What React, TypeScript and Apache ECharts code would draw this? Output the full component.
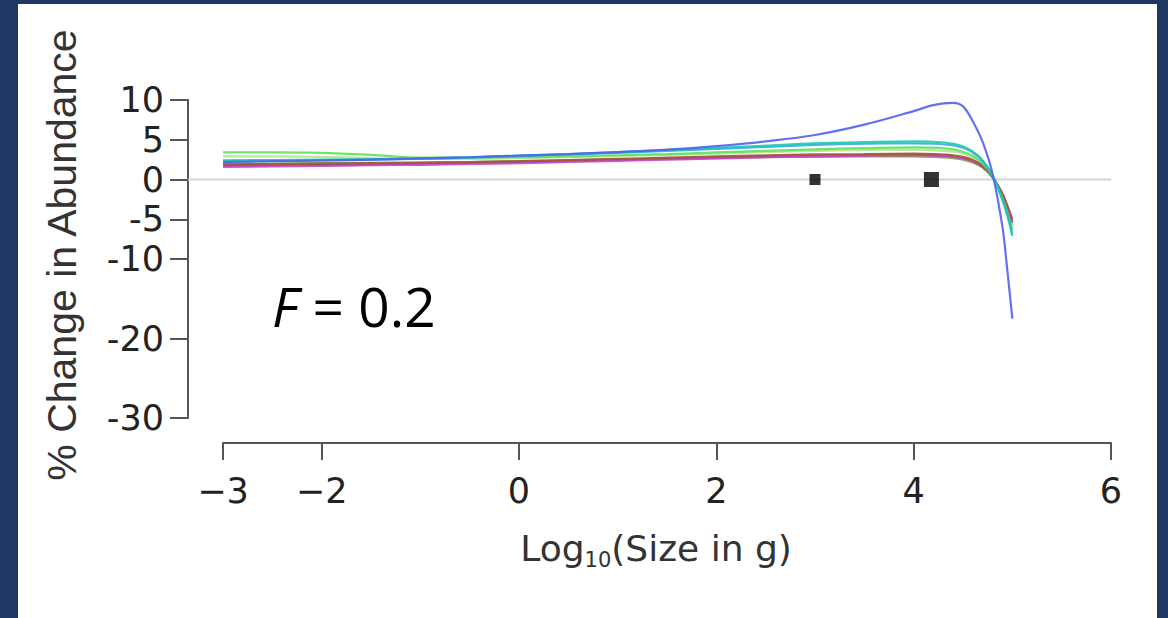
import React, { useEffect, useRef } from "react";
import * as echarts from "echarts";

const X_VALUES = [-3, -2.5, -2, -1.5, -1, -0.5, 0, 0.5, 1, 1.5, 2, 2.5, 3, 3.5, 4, 4.2, 4.4, 4.5, 4.6, 4.7, 4.8, 4.9, 4.95, 5];

const BLUE = [2.2, 2.3, 2.4, 2.5, 2.65, 2.8, 3.0, 3.2, 3.45, 3.75, 4.2, 4.8, 5.6, 6.9, 8.6, 9.35, 9.65, 9.2, 7.3, 4.7, 0.7, -6.0, -11.5, -17.5];
const TEAL = [2.4, 2.45, 2.5, 2.55, 2.65, 2.8, 3.0, 3.2, 3.45, 3.7, 3.95, 4.25, 4.55, 4.7, 4.8, 4.75, 4.5, 4.15, 3.5, 2.4, 0.5, -2.6, -4.6, -7.1];
const SKY = [2.3, 2.35, 2.4, 2.5, 2.6, 2.75, 2.95, 3.15, 3.35, 3.6, 3.85, 4.1, 4.35, 4.5, 4.55, 4.5, 4.3, 4.0, 3.4, 2.3, 0.5, -2.5, -4.4, -6.8];
const GREEN = [3.4, 3.4, 3.35, 3.1, 2.75, 2.75, 2.8, 2.9, 3.05, 3.2, 3.4, 3.6, 3.8, 3.95, 4.05, 4.0, 3.8, 3.5, 2.95, 2.0, 0.4, -2.4, -4.2, -6.3];
const LIGHT_GREEN = [2.9, 2.9, 2.85, 2.7, 2.6, 2.6, 2.7, 2.8, 2.95, 3.1, 3.25, 3.45, 3.6, 3.7, 3.75, 3.7, 3.5, 3.25, 2.75, 1.9, 0.4, -2.2, -3.9, -5.8];
const BROWN = [1.9, 1.95, 2.0, 2.05, 2.1, 2.2, 2.3, 2.45, 2.6, 2.75, 2.9, 3.05, 3.15, 3.2, 3.25, 3.2, 3.05, 2.85, 2.45, 1.7, 0.3, -1.8, -3.3, -5.0];
const OLIVE = [2.0, 2.0, 2.05, 2.1, 2.15, 2.2, 2.3, 2.4, 2.5, 2.6, 2.7, 2.8, 2.85, 2.9, 2.9, 2.85, 2.7, 2.5, 2.15, 1.5, 0.3, -2.0, -3.7, -5.8];
const MAGENTA = [1.6, 1.65, 1.7, 1.8, 1.85, 1.95, 2.05, 2.2, 2.35, 2.5, 2.65, 2.8, 2.95, 3.0, 3.05, 3.0, 2.85, 2.65, 2.3, 1.6, 0.3, -1.9, -3.5, -5.3];
const PURPLE = [1.75, 1.8, 1.85, 1.9, 2.0, 2.1, 2.2, 2.35, 2.5, 2.65, 2.8, 2.95, 3.05, 3.1, 3.15, 3.1, 2.95, 2.75, 2.35, 1.65, 0.3, -1.9, -3.5, -5.4];

const CURVES: [string, number[], string][] = [
  ["olive", OLIVE, "#6aa83a"],
  ["lightgreen", LIGHT_GREEN, "#b4e496"],
  ["purple", PURPLE, "#5b3aa8"],
  ["magenta", MAGENTA, "#cc44c4"],
  ["brown", BROWN, "#a8583c"],
  ["green", GREEN, "#62e05c"],
  ["sky", SKY, "#3aa8e6"],
  ["teal", TEAL, "#1cc9b0"],
  ["blue", BLUE, "#4f63ee"],
];

const POINTS_X = [3, 4.18];
const POINTS_Y = [0, 0];
const POINTS_SIZE = [11, 15];

const X_TICKS = [-3, -2, 0, 2, 4, 6];
const Y_TICKS = [-30, -20, -10, -5, 0, 5, 10];
const ZERO_LINE = [[0, 0], [1, 0]];

const AXIS_FONT = "DejaVu Sans";

export default function App() {
  const ref = useRef<HTMLDivElement>(null);
  useEffect(() => {
    if (!ref.current) return;
    const chart = echarts.init(ref.current, undefined, { renderer: "svg" });
    const curveSeries = CURVES.map(([name, vals, color]) => ({
      name,
      type: "line",
      xAxisIndex: 0,
      yAxisIndex: 0,
      data: X_VALUES.map((x, i) => [x, vals[i]]),
      smooth: 0.35,
      showSymbol: false,
      symbol: "none",
      lineStyle: { color, width: 2.2, opacity: 0.9 },
      z: 3,
    }));
    chart.setOption({
      animation: false,
      backgroundColor: "#ffffff",
      grid: [
        { left: 205, right: 46, top: 96, bottom: 200 },
        { left: 170, right: 46, top: 96, bottom: 200 },
      ],
      xAxis: [
        {
          type: "value",
          gridIndex: 0,
          min: -3,
          max: 6,
          position: "bottom",
          offset: 25,
          axisLine: { show: true, onZero: false, lineStyle: { color: "#555", width: 2 } },
          axisTick: { show: true, length: 17, customValues: X_TICKS, lineStyle: { color: "#555", width: 2 } },
          axisLabel: {
            customValues: X_TICKS,
            margin: 30,
            fontFamily: AXIS_FONT,
            fontSize: 35,
            color: "#222",
            formatter: (v: number) => (v < 0 ? "\u2212" + Math.abs(v) : String(v)),
          },
          splitLine: { show: false },
        },
        {
          type: "value",
          gridIndex: 1,
          min: 0,
          max: 1,
          show: false,
        },
      ],
      yAxis: [
        {
          type: "value",
          gridIndex: 0,
          min: -30,
          max: 10,
          show: false,
        },
        {
          type: "value",
          gridIndex: 1,
          min: -30,
          max: 10,
          position: "left",
          axisLine: { show: true, onZero: false, lineStyle: { color: "#555", width: 2 } },
          axisTick: { show: true, length: 18, customValues: Y_TICKS, lineStyle: { color: "#555", width: 2 } },
          axisLabel: {
            customValues: Y_TICKS,
            margin: 24,
            fontFamily: AXIS_FONT,
            fontSize: 35,
            color: "#222",
          },
          splitLine: { show: false },
        },
      ],
      series: [
        {
          name: "zero",
          type: "line",
          xAxisIndex: 1,
          yAxisIndex: 1,
          data: ZERO_LINE,
          symbol: "none",
          lineStyle: { color: "#d4d4d4", width: 2 },
          z: 1,
          silent: true,
        },
        ...curveSeries,
        {
          name: "points",
          type: "scatter",
          xAxisIndex: 0,
          yAxisIndex: 0,
          symbol: "rect",
          data: POINTS_X.map((x, i) => ({ value: [x, POINTS_Y[i]], symbolSize: POINTS_SIZE[i] })),
          itemStyle: { color: "#000" },
          z: 4,
        },
      ],
      graphic: [
        {
          type: "text",
          x: 44,
          y: 251,
          rotation: Math.PI / 2,
          style: {
            text: "% Change in Abundance",
            fontFamily: "Liberation Sans",
            fontSize: 41,
            fill: "#333",
            align: "center",
            verticalAlign: "middle",
          },
        },
        {
          type: "text",
          x: 638,
          y: 544,
          style: {
            text: "{m|Log}{s|10}{m|(Size in g)}",
            align: "center",
            verticalAlign: "middle",
            rich: {
              m: { fontFamily: AXIS_FONT, fontSize: 36, lineHeight: 44, fill: "#333", verticalAlign: "middle" },
              s: { fontFamily: AXIS_FONT, fontSize: 21, lineHeight: 21, fill: "#333", verticalAlign: "bottom" },
            },
          },
        },
        {
          type: "text",
          x: 254,
          y: 301,
          style: {
            text: "{i|F} = 0.2",
            fontFamily: "Open Sans",
            fontSize: 55,
            fill: "#000",
            align: "left",
            verticalAlign: "middle",
            rich: {
              i: { fontFamily: "Open Sans", fontSize: 55, fontStyle: "italic", fill: "#000" },
            },
          },
        },
      ],
    });
    return () => chart.dispose();
  }, []);
  return (
    <div style={{ position: "fixed", left: 0, top: 0, width: 1168, height: 618, background: "#1f3763" }}>
      <div ref={ref} style={{ position: "absolute", left: 18, top: 4, width: 1139, height: 614, background: "#fff" }} />
    </div>
  );
}
